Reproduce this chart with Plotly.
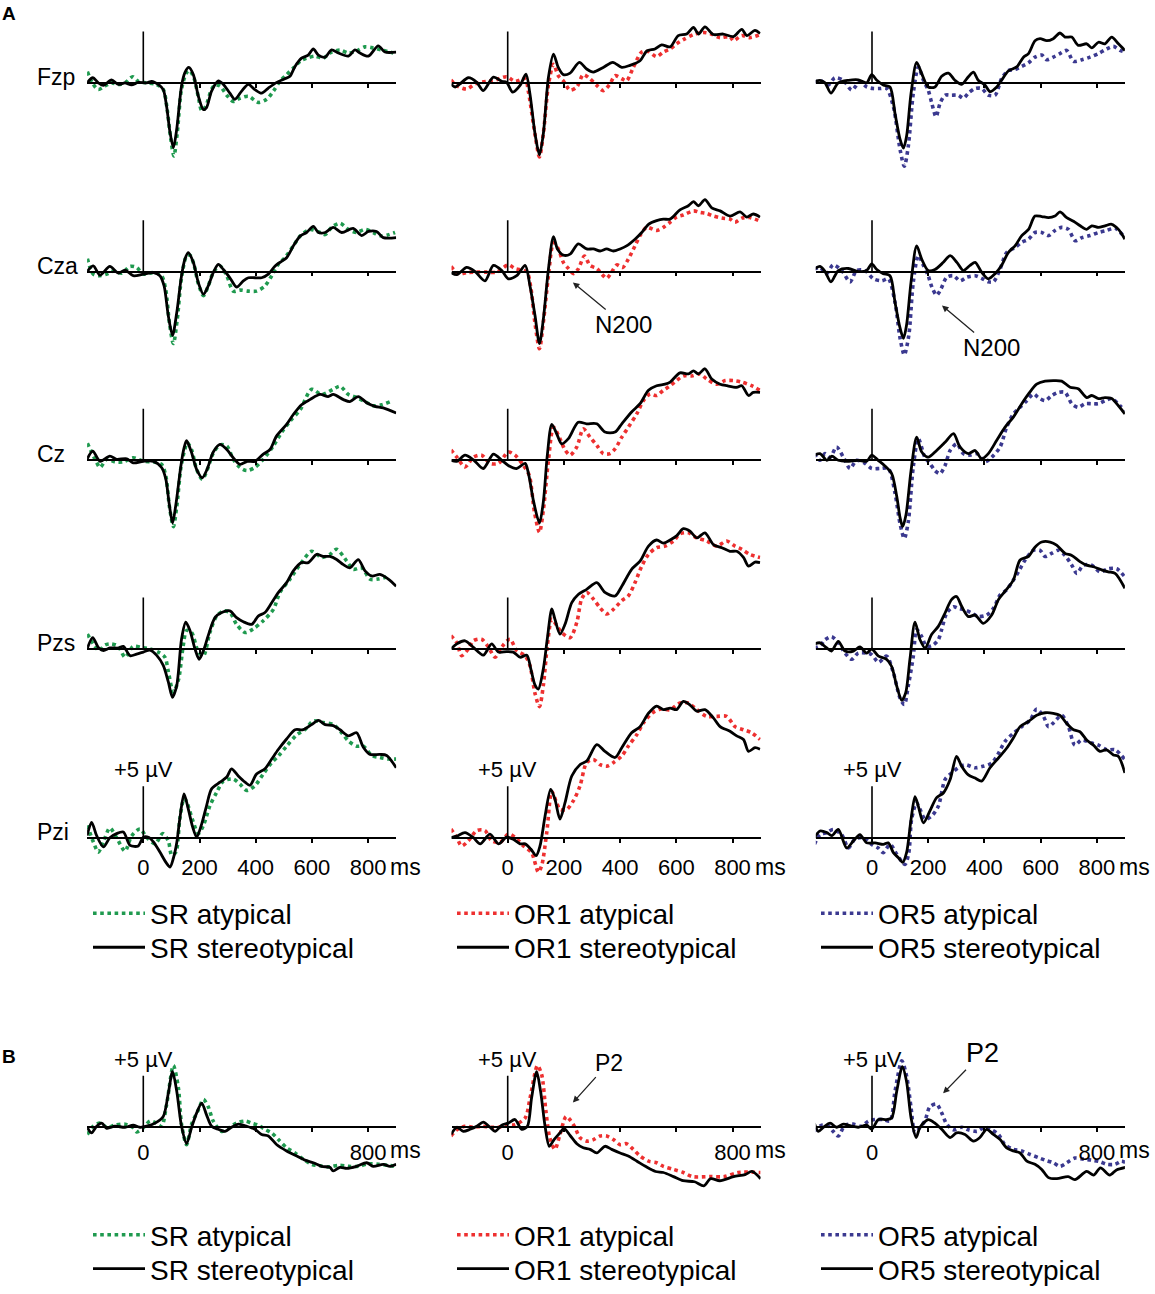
import plotly.graph_objects as go

# ── figure geometry (pixels of the 1155x1294 page) ───────────────────────────
W, H = 1155, 1294
PX_PER_UV = 10.3            # 5 µV calibration bar ~ 51 px
PX_PER_MS = 0.281           # 200 ms ~ 56 px
T_RANGE = [-200, 900]
ZERO_PX = [143.3, 507.7, 872.0]          # x pixel of t = 0 in each column
BASE_A = [83, 272, 461, 650, 839]        # y pixel of the 0 µV line, rows of A
BASE_B = 1129
Y_MIN = -9.0

FONT = "Liberation Sans, Arial, Helvetica, sans-serif"

CONDITIONS = ["SR", "OR1", "OR5"]
ELECTRODES = ["Fzp", "Cza", "Cz", "Pzs", "Pzi"]
ATYP_COLORS = {"SR": "#1f9a4f", "OR1": "#ee3030", "OR5": "#3b3990"}
SCALE_BAR_UV = 5
TICKS_MS = [0, 200, 400, 600, 800]

# ── waveforms: (ms, µV) ──────────────────────────────────────────────────────
# SR column
SR_FZP_STEREO = [(-200, 0), (-180, 0.5), (-160, 0), (-142, -0.25), (-113, 0.3), (-89, -0.15), (-65, 0), (-42, -0.2), (-18, 0.05), (12, 0), (30, 0.15), (53, -0.15), (71, -0.65), (83, -2.3), (95, -4.8), (107, -6.3), (119, -4.5), (136, -0.3), (148, 1.0), (162, 1.5), (178, 0.8), (196, -1.3), (214, -2.6), (225, -2.4), (243, -0.8), (267, 0.2), (285, -0.15), (308, -1.0), (326, -1.6), (350, -0.8), (374, -0.15), (397, -0.65), (421, -1.0), (445, -0.5), (475, 0.05), (504, 0.4), (522, 0.65), (540, 1.6), (563, 2.4), (587, 2.7), (605, 3.3), (623, 2.7), (647, 2.5), (670, 3.2), (694, 2.9), (730, 2.6), (753, 3.2), (771, 2.9), (801, 2.6), (836, 3.6), (860, 3.0), (900, 3.0)]
SR_FZP_ATYP = [(-199, 1.1), (-178, -0.15), (-160, -0.65), (-136, -0.3), (-113, 0), (-89, -0.15), (-65, 0), (-38, 0.6), (-18, 0.15), (12, 0), (47, -0.15), (71, -0.65), (85, -2.6), (97, -5.3), (109, -7.1), (121, -4.8), (136, -0.6), (154, 1.0), (165, 1.2), (180, 0.5), (196, -1.4), (208, -2.7), (222, -2.3), (243, -0.6), (255, -0.2), (273, -0.3), (297, -1.2), (320, -1.8), (344, -1.5), (374, -1.3), (409, -1.9), (439, -1.6), (463, -0.8), (486, 0.15), (510, 0.8), (534, 1.45), (563, 2.2), (581, 2.4), (611, 2.6), (640, 2.4), (664, 2.9), (700, 3.2), (730, 2.9), (759, 3.1), (789, 3.5), (818, 3.4), (848, 3.2), (890, 2.9)]
SR_CZA_STEREO = [(-200, 0), (-178, 0.55), (-154, -0.35), (-119, 0.5), (-89, -0.15), (-65, 0.15), (-36, -0.4), (0, -0.25), (36, -0.1), (59, -0.4), (74, -1.4), (89, -4.3), (104, -6.2), (119, -4.0), (136, -0.4), (148, 1.2), (160, 1.85), (178, 0.9), (196, -1.1), (214, -2.2), (231, -1.4), (249, -0.1), (267, 0.7), (285, 0.2), (308, -0.6), (332, -1.5), (356, -0.9), (374, -0.6), (397, -0.6), (421, -0.6), (445, -0.25), (469, 0.55), (492, 1.0), (510, 1.35), (534, 2.5), (558, 3.45), (581, 3.8), (605, 4.4), (623, 3.8), (647, 3.8), (676, 4.3), (706, 3.8), (747, 4.2), (777, 3.5), (801, 3.9), (830, 3.9), (854, 3.3), (900, 3.3)]
SR_CZA_ATYP = [(-199, 1.25), (-178, -0.25), (-154, -0.4), (-130, -0.25), (-107, 0.05), (-77, -0.15), (-47, 0.5), (-24, 0.4), (0, -0.25), (36, -0.1), (65, -0.4), (80, -1.8), (93, -5.0), (107, -7.0), (121, -4.6), (136, -0.6), (154, 1.5), (166, 1.6), (180, 0.7), (196, -1.2), (214, -2.35), (231, -1.4), (249, -0.1), (273, 0.55), (297, -0.4), (320, -1.9), (344, -1.8), (374, -1.9), (403, -1.9), (433, -1.4), (457, -0.4), (480, 0.7), (504, 1.35), (534, 2.5), (558, 3.45), (593, 4.1), (629, 3.8), (647, 3.6), (670, 4.3), (700, 4.7), (730, 4.1), (759, 3.8), (789, 4.1), (818, 3.8), (848, 3.45), (896, 3.8)]
SR_CZ_STEREO = [(-200, 0.1), (-180, 0.9), (-154, -0.1), (-119, 0.4), (-95, 0.1), (-59, 0.15), (-36, -0.25), (0, -0.1), (36, -0.1), (65, -0.7), (80, -1.8), (92, -4.2), (104, -6.1), (116, -4.3), (134, -0.5), (145, 1.2), (154, 1.9), (170, 0.9), (190, -0.9), (210, -1.7), (228, -0.8), (249, 0.8), (273, 1.55), (297, 1.05), (320, 0.25), (344, -0.4), (370, -0.1), (397, -0.1), (427, 0.6), (451, 1.05), (474, 2.35), (510, 3.5), (534, 4.45), (563, 5.4), (593, 5.9), (629, 6.4), (658, 6.2), (676, 6.4), (712, 5.9), (735, 5.7), (765, 6.2), (795, 5.6), (824, 5.25), (854, 5.1), (900, 4.6)]
SR_CZ_ATYP = [(-199, 1.65), (-167, -0.15), (-154, -0.7), (-130, 0.1), (-101, -0.15), (-71, -0.15), (-36, 0.25), (0, -0.1), (36, -0.15), (65, -0.4), (80, -1.5), (93, -4.5), (107, -6.45), (119, -4.5), (134, -0.7), (148, 1.1), (157, 1.7), (172, 1.0), (190, -0.9), (210, -1.85), (228, -0.9), (249, 0.7), (273, 1.5), (297, 1.4), (320, 0.1), (344, -0.7), (368, -1.0), (397, -0.7), (427, 0.1), (463, 1.4), (492, 2.7), (522, 3.8), (558, 4.9), (599, 6.9), (635, 6.4), (676, 6.9), (700, 7.2), (730, 6.4), (759, 6.1), (789, 5.7), (818, 5.3), (848, 5.4), (878, 5.7)]
SR_PZS_STEREO = [(-200, 0), (-180, 1.1), (-160, 0.15), (-142, -0.15), (-119, 0.1), (-89, 0.1), (-71, 0.25), (-47, -0.65), (-24, -0.5), (0, -0.3), (24, -0.1), (47, -0.6), (71, -1.6), (89, -3.2), (104, -4.7), (119, -3.55), (136, 0.95), (151, 2.6), (166, 1.8), (184, 0), (199, -1.0), (216, 0), (231, 1.3), (255, 3.05), (279, 3.55), (308, 3.7), (332, 3.05), (356, 2.65), (386, 2.4), (409, 3.2), (433, 3.55), (457, 4.5), (481, 5.5), (510, 6.45), (534, 7.6), (563, 8.4), (587, 8.4), (617, 9.2), (640, 9.0), (664, 9.0), (688, 8.7), (712, 8.2), (735, 7.9), (765, 8.7), (789, 7.6), (813, 7.1), (842, 7.25), (872, 6.8), (900, 6.1)]
SR_PZS_ATYP = [(-199, 1.45), (-178, 0.5), (-157, -0.15), (-136, 0.4), (-113, 0.5), (-89, 0.25), (-65, -0.8), (-36, 0.25), (-6, 0.15), (24, 0), (53, -0.3), (77, -0.8), (89, -2.2), (107, -4.2), (125, -3.0), (142, 0.3), (154, 1.8), (172, 1.6), (196, -0.3), (214, -0.65), (237, 1.6), (261, 3.2), (285, 3.7), (308, 3.55), (332, 2.4), (362, 1.6), (391, 1.95), (427, 2.75), (463, 3.85), (486, 5.5), (522, 6.8), (558, 8.2), (599, 9.5), (635, 8.9), (664, 9.2), (688, 9.7), (724, 8.55), (747, 7.75), (777, 7.9), (807, 6.8), (836, 6.8), (878, 7.1)]
SR_PZI_STEREO = [(-200, 0.2), (-184, 1.5), (-166, 0.2), (-142, -0.9), (-119, 0), (-95, 0.4), (-71, 0.55), (-47, -0.75), (-18, -0.8), (0, 0.05), (18, 0.05), (36, -0.4), (59, -1.4), (83, -2.5), (95, -2.85), (107, -2.0), (119, -0.5), (130, 1.85), (145, 4.25), (160, 2.8), (176, 1.0), (190, 0.05), (208, 1.35), (225, 3.1), (243, 4.75), (273, 5.4), (297, 5.9), (314, 6.7), (338, 6.0), (362, 5.4), (380, 5.1), (403, 6.2), (433, 6.7), (457, 7.65), (481, 8.6), (510, 9.6), (540, 10.5), (569, 10.5), (599, 11.0), (623, 11.4), (647, 11.0), (676, 10.9), (700, 10.5), (730, 9.9), (759, 10.2), (783, 8.8), (807, 8.1), (842, 8.1), (866, 8.0), (900, 6.8)]
SR_PZI_ATYP = [(-199, 1.2), (-178, -0.4), (-160, -1.4), (-142, -0.4), (-119, 0.95), (-95, 0), (-65, -1.3), (-42, 0.15), (-12, 0.85), (12, 0.05), (42, -0.6), (69, 0.4), (89, -0.3), (101, -1.7), (116, -1.4), (130, 1.85), (145, 3.8), (154, 3.5), (178, 1.5), (196, 0.4), (214, 1.2), (237, 3.1), (261, 4.4), (285, 5.5), (320, 5.7), (344, 5.2), (368, 4.6), (397, 5.05), (427, 6.2), (457, 7.3), (481, 7.95), (510, 8.9), (546, 10.0), (575, 10.5), (605, 11.35), (640, 11.2), (676, 11.0), (706, 10.2), (730, 9.4), (759, 8.9), (783, 8.9), (813, 8.0), (842, 7.8), (872, 7.65), (900, 7.65)]

# OR1 column
OR1_FZP_STEREO = [(-202, -0.1), (-187, -0.4), (-170, -0.1), (-140, 0.5), (-110, 0.05), (-87, -0.75), (-51, 0.55), (-21, 0.15), (-4, 0.05), (18, -0.9), (44, -0.25), (65, 0.85), (79, -1.05), (97, -4.9), (113, -7.0), (127, -4.9), (145, 0.55), (163, 2.8), (180, 1.5), (198, 0.8), (222, 0.95), (255, 2.0), (281, 1.35), (305, 1.05), (340, 1.5), (374, 2.0), (406, 1.5), (435, 1.7), (471, 2.15), (495, 3.1), (524, 3.3), (548, 3.7), (578, 3.5), (607, 4.6), (637, 4.75), (661, 5.4), (679, 4.75), (702, 5.45), (732, 4.7), (767, 4.75), (803, 4.5), (833, 5.2), (851, 4.6), (880, 5.1), (898, 4.8)]
OR1_FZP_ATYP = [(-202, 0.3), (-182, -0.25), (-146, -0.6), (-116, -0.1), (-75, 0.15), (-51, 0.2), (-4, 0.6), (26, 0.15), (62, 0.4), (74, -0.9), (97, -5.0), (113, -7.2), (127, -4.9), (145, -0.2), (163, 1.8), (180, 0.7), (198, 0.2), (222, -0.7), (246, -0.4), (269, 0.8), (293, 0.4), (317, -0.25), (340, -0.75), (364, -0.1), (382, 0.7), (406, 0.4), (423, 0.2), (447, 1.5), (477, 3.0), (501, 3.05), (530, 2.55), (554, 3.0), (578, 3.3), (601, 3.8), (625, 4.2), (661, 4.7), (696, 4.9), (720, 4.8), (756, 4.4), (791, 4.5), (803, 4.1), (833, 4.6), (862, 4.4), (898, 4.7)]
OR1_CZA_STEREO = [(-202, -0.1), (-181, -0.3), (-146, 0.4), (-116, 0), (-81, -0.9), (-51, 0.6), (-21, 0.1), (2, -0.7), (32, -0.4), (62, 0.6), (79, -1.35), (97, -4.25), (113, -7.0), (127, -4.6), (145, 0.25), (163, 3.4), (177, 2.2), (198, 1.6), (222, 1.7), (251, 2.7), (281, 2.2), (305, 2.2), (329, 2.0), (352, 2.2), (376, 2.0), (400, 2.2), (423, 2.5), (453, 3.15), (477, 3.8), (501, 4.6), (530, 4.95), (554, 5.1), (578, 5.1), (613, 6.0), (643, 6.4), (661, 6.8), (679, 6.4), (702, 7.0), (726, 6.2), (756, 5.9), (791, 5.4), (827, 5.8), (851, 5.3), (874, 5.6), (898, 5.3)]
OR1_CZA_ATYP = [(-202, 0.5), (-176, -0.2), (-146, -0.1), (-116, -0.05), (-75, -0.05), (-39, -0.05), (2, 0.65), (26, 0.3), (68, -0.05), (82, -1.5), (97, -5.0), (113, -7.5), (127, -4.9), (145, -0.4), (163, 2.8), (180, 2.2), (198, 0.9), (216, 0.3), (234, -0.2), (251, 0.25), (273, 1.5), (293, 0.6), (317, 0.3), (340, -0.4), (352, -0.65), (370, -0.05), (388, 0.65), (409, 0.4), (429, 1.2), (453, 2.5), (471, 3.5), (495, 4.3), (530, 4.0), (554, 4.3), (578, 4.8), (601, 5.3), (625, 5.5), (661, 5.9), (685, 5.75), (708, 5.65), (732, 5.4), (762, 5.2), (791, 5.1), (809, 4.8), (833, 5.2), (862, 5.25), (898, 4.9)]
OR1_CZ_STEREO = [(-202, 0), (-181, -0.1), (-152, 0.5), (-122, 0.05), (-87, -0.8), (-51, 0.6), (-21, 0), (2, -0.5), (32, -0.8), (62, -0.3), (74, -1.3), (92, -4.0), (113, -6.1), (127, -4.0), (141, 0.5), (157, 3.5), (174, 2.6), (192, 1.6), (216, 2.1), (251, 3.7), (281, 3.55), (317, 3.55), (346, 2.75), (382, 2.75), (406, 3.55), (441, 4.7), (471, 5.5), (501, 6.8), (530, 7.25), (560, 7.4), (578, 7.6), (613, 8.5), (643, 8.4), (661, 8.7), (679, 8.4), (702, 8.9), (726, 7.9), (756, 7.4), (780, 7.25), (815, 7.1), (833, 7.25), (857, 6.3), (874, 6.6), (898, 6.6)]
OR1_CZ_ATYP = [(-202, 1.0), (-181, 0.3), (-152, -0.65), (-122, 0.3), (-93, 0.5), (-63, -0.3), (-33, -0.3), (2, 0.8), (26, 0.5), (56, -0.5), (77, -1.5), (95, -5.0), (113, -7.0), (127, -4.8), (145, 0.0), (163, 3.2), (186, 2.1), (204, 1.0), (222, 0.5), (246, 1.3), (269, 3.05), (293, 2.25), (317, 1.45), (340, 0.65), (364, 0.65), (382, 1.1), (406, 2.25), (429, 3.2), (459, 4.5), (483, 5.8), (507, 6.45), (530, 6.3), (554, 6.8), (578, 7.25), (601, 7.75), (625, 8.2), (655, 8.2), (685, 8.4), (708, 7.9), (744, 7.4), (774, 7.75), (803, 7.75), (833, 7.6), (868, 7.25), (898, 6.8)]
OR1_PZS_STEREO = [(-202, 0), (-181, 0.5), (-152, 0.8), (-122, 0.15), (-87, -0.6), (-57, 0.5), (-33, -0.3), (-4, -0.25), (20, -0.3), (44, -0.8), (68, -0.6), (82, -1.9), (97, -3.5), (109, -3.9), (127, -1.9), (141, 1.0), (157, 3.9), (168, 2.9), (186, 1.45), (204, 2.4), (228, 4.5), (251, 5.3), (281, 5.8), (317, 6.45), (346, 5.5), (382, 5.15), (406, 6.1), (441, 7.75), (471, 8.55), (501, 10.0), (530, 10.6), (554, 10.3), (578, 10.6), (601, 11.0), (625, 11.7), (649, 11.45), (673, 10.8), (702, 11.3), (732, 10.15), (762, 9.85), (791, 9.5), (815, 9.5), (839, 8.9), (857, 8.05), (880, 8.45), (898, 8.4)]
OR1_PZS_ATYP = [(-202, 1.3), (-181, 0.6), (-164, -0.65), (-140, 0), (-122, 0.8), (-93, 0.95), (-69, 0.2), (-45, -0.8), (-21, 0.2), (8, 0.95), (32, -0.15), (62, -0.65), (79, -1.6), (97, -4.3), (113, -5.6), (127, -3.5), (141, 0.3), (157, 2.9), (174, 2.3), (192, 1.6), (222, 1.1), (246, 2.6), (263, 4.85), (281, 5.5), (305, 4.85), (329, 4.0), (352, 3.4), (376, 3.85), (406, 4.7), (429, 5.15), (453, 6.45), (477, 8.05), (501, 9.2), (530, 9.85), (560, 10.0), (590, 10.5), (613, 11.2), (643, 11.3), (673, 10.8), (708, 10.5), (744, 10.0), (779, 10.5), (809, 10.0), (833, 9.7), (862, 9.2), (898, 8.9)]
OR1_PZI_STEREO = [(-202, 0), (-181, 0.15), (-152, 0.5), (-122, 0), (-98, -0.6), (-63, 0.35), (-33, -0.6), (-4, 0.05), (20, -0.15), (44, -0.6), (62, -0.6), (82, -1.1), (101, -1.75), (115, -0.8), (133, 2.1), (153, 4.7), (168, 3.75), (186, 1.8), (204, 3.4), (228, 6.0), (257, 7.1), (281, 7.45), (317, 9.05), (346, 8.4), (382, 7.8), (406, 8.75), (441, 10.2), (471, 10.8), (501, 12.1), (530, 12.8), (554, 12.45), (578, 12.6), (601, 12.45), (625, 13.25), (649, 12.9), (673, 12.3), (702, 12.45), (732, 11.65), (756, 10.8), (791, 10.35), (815, 9.9), (839, 9.55), (857, 8.4), (880, 8.75), (898, 8.6)]
OR1_PZI_ATYP = [(-202, 0.85), (-181, 0), (-164, -0.8), (-140, -0.3), (-110, 0.7), (-81, 0.7), (-57, -0.3), (-27, -0.45), (2, 0.35), (26, 0.05), (56, -0.8), (85, -1.45), (109, -3.35), (121, -2.7), (139, 0.5), (157, 4.5), (174, 3.4), (186, 2.75), (210, 2.75), (234, 3.6), (257, 5.0), (281, 7.3), (305, 7.6), (329, 7.1), (352, 6.95), (376, 7.3), (406, 7.95), (429, 8.9), (459, 10.0), (483, 11.15), (513, 12.1), (542, 12.5), (578, 12.45), (613, 13.1), (643, 13.1), (673, 12.45), (708, 11.8), (744, 11.8), (779, 11.8), (809, 10.8), (839, 10.5), (868, 10.2), (898, 9.55)]

# OR5 column
OR5_FZP_STEREO = [(-205, 0.1), (-185, 0.25), (-167, 0), (-146, -1.0), (-120, 0), (-84, 0.25), (-49, 0.3), (-19, 0), (-1, 0.8), (17, 0.25), (40, -0.2), (64, -0.4), (82, -3.0), (100, -5.5), (112, -6.35), (123, -5.2), (139, -1.0), (159, 2.0), (177, 0.9), (200, -0.4), (224, -0.4), (248, 0.65), (272, 0.95), (295, 0.25), (319, -0.15), (343, 0.6), (361, 1.05), (378, 0.25), (402, -0.2), (420, -0.85), (444, -0.4), (461, 0.25), (485, 1.15), (515, 1.55), (539, 2.5), (557, 2.85), (580, 4.1), (598, 4.3), (622, 4.1), (645, 4.3), (669, 4.85), (687, 4.45), (711, 4.45), (734, 3.65), (764, 3.8), (782, 3.4), (806, 3.95), (829, 3.8), (853, 4.45), (877, 3.8), (900, 3.15)]
OR5_FZP_ATYP = [(-205, 0), (-185, 0.25), (-156, -0.2), (-132, 0.5), (-102, 0.25), (-72, -0.7), (-43, 0.1), (-19, -0.4), (5, -0.55), (29, -0.55), (52, -0.55), (76, -2.3), (100, -6.5), (115, -8.1), (129, -6.2), (147, -1.0), (165, 1.55), (183, 0.25), (200, -0.7), (213, -2.0), (228, -3.3), (242, -2.0), (260, -1.2), (283, -1.2), (307, -1.2), (325, -1.5), (343, -1.0), (367, -0.55), (390, -0.55), (414, -1.2), (438, -1.2), (461, 0.4), (485, 1.2), (509, 1.3), (533, 1.6), (557, 1.95), (580, 2.5), (604, 2.7), (622, 2.25), (645, 2.5), (669, 2.85), (693, 3.15), (717, 2.1), (747, 2.25), (776, 2.5), (806, 2.85), (835, 3.3), (859, 3.55), (883, 3.15), (900, 3.0)]
OR5_CZA_STEREO = [(-205, 0.25), (-185, 0.5), (-167, 0), (-146, -1.0), (-120, 0.1), (-84, 0.3), (-49, 0), (-19, 0.1), (-1, 0.75), (17, 0.2), (40, -0.2), (64, -0.4), (82, -3.0), (100, -5.5), (112, -6.5), (123, -5.2), (139, -1.0), (159, 2.5), (177, 1.2), (200, 0.1), (224, 0.2), (254, 0.9), (278, 1.55), (302, 0.9), (325, 0.1), (349, 0.6), (367, 0.9), (390, -0.05), (414, -0.7), (438, -0.2), (461, 0.6), (485, 1.85), (509, 2.5), (533, 3.5), (557, 4.1), (580, 5.4), (604, 5.35), (628, 5.25), (651, 5.4), (669, 5.8), (693, 5.25), (717, 4.9), (741, 4.45), (764, 4.1), (782, 4.45), (806, 4.3), (829, 4.45), (853, 4.6), (877, 4.1), (900, 3.15)]
OR5_CZA_ATYP = [(-205, 0.25), (-185, 0.4), (-162, -0.2), (-138, 0.65), (-108, 0.1), (-78, -1.0), (-55, 0.1), (-25, 0.1), (5, -0.7), (35, -0.9), (58, -0.7), (82, -3.0), (100, -6.5), (115, -8.1), (131, -6.2), (147, -1.0), (165, 1.55), (183, 0.6), (200, -0.4), (213, -1.5), (230, -2.3), (245, -1.7), (266, -0.55), (290, -0.4), (313, -0.9), (337, -0.55), (367, -0.4), (390, -0.65), (414, -1.0), (432, -1.0), (456, 0.25), (479, 1.85), (509, 2.35), (533, 2.85), (557, 3.15), (580, 3.8), (604, 3.8), (628, 3.5), (651, 4.0), (675, 4.3), (699, 4.1), (723, 3.0), (747, 3.3), (776, 3.5), (806, 3.8), (835, 4.0), (865, 4.2), (900, 3.3)]
OR5_CZ_STEREO = [(-205, 0.5), (-185, 0.65), (-161, 0), (-143, 0.4), (-120, 0), (-90, -0.1), (-49, 0), (-19, -0.1), (-1, 0.5), (22, 0), (46, -0.55), (70, -1.3), (88, -3.5), (100, -5.6), (109, -6.45), (121, -5.3), (139, -1.0), (159, 2.25), (177, 0.8), (200, 0.3), (230, 0.95), (260, 1.75), (290, 2.6), (313, 1.3), (343, 0.65), (367, 0.95), (390, 0.15), (414, 0.65), (444, 1.95), (473, 3.2), (503, 4.2), (533, 5.5), (557, 6.45), (586, 7.4), (616, 7.7), (645, 7.75), (675, 7.7), (705, 7.1), (734, 6.95), (764, 6.1), (782, 6.3), (806, 6.0), (829, 6.1), (853, 6.0), (877, 5.3), (900, 4.5)]
OR5_CZ_ATYP = [(-205, 0.65), (-185, 0), (-167, 0.65), (-149, 0.3), (-126, 1.3), (-102, 0.3), (-78, -0.8), (-55, 0), (-25, -0.3), (-1, -0.8), (29, -0.8), (58, -0.8), (82, -3.2), (100, -6.2), (115, -7.6), (129, -6.0), (147, -0.6), (165, 2.1), (188, 0.3), (206, -0.3), (224, -1.0), (242, -1.3), (260, -0.5), (278, 0.95), (302, 1.6), (325, 0.65), (349, 0.5), (373, 0.65), (402, -0.15), (426, 0.3), (456, 1.3), (479, 3.2), (503, 4.5), (527, 5.15), (551, 5.8), (575, 6.45), (592, 6.1), (616, 5.8), (640, 6.3), (663, 6.6), (687, 6.6), (711, 5.5), (734, 5.15), (758, 5.5), (782, 5.5), (806, 5.5), (829, 5.8), (853, 6.0), (883, 5.3), (900, 4.85)]
OR5_PZS_STEREO = [(-205, 0.5), (-185, 0.6), (-161, 0.1), (-144, -0.2), (-120, 0.75), (-96, -0.2), (-66, -0.2), (-43, 0.2), (-19, -0.4), (-1, 0), (23, -0.7), (52, -1.0), (70, -1.7), (88, -3.6), (106, -5.0), (120, -4.25), (135, -1.0), (153, 2.6), (171, 0.9), (189, 0.1), (212, 1.4), (236, 2.2), (260, 3.5), (283, 4.8), (301, 5.1), (319, 4.15), (343, 3.15), (367, 3.3), (396, 2.5), (426, 3.3), (450, 4.8), (473, 5.6), (503, 6.7), (527, 8.65), (557, 9.0), (580, 9.9), (604, 10.4), (634, 10.4), (657, 10.1), (687, 9.3), (711, 9.1), (740, 8.5), (764, 8.15), (788, 8.0), (817, 7.7), (841, 7.5), (865, 7.35), (900, 5.9)]
OR5_PZS_ATYP = [(-205, 0.1), (-185, 0.3), (-167, 0.9), (-144, 1.2), (-120, 0.6), (-96, -0.4), (-72, -1.0), (-49, -0.4), (-19, -0.4), (-1, -0.55), (23, -1.3), (52, -0.7), (76, -2.3), (100, -4.8), (115, -5.4), (129, -3.6), (147, -0.7), (159, 1.9), (177, 1.2), (194, 0.25), (218, 0.4), (236, 0.9), (248, 1.9), (266, 3.5), (290, 4.1), (307, 3.95), (331, 3.8), (355, 3.5), (378, 3.15), (408, 3.3), (432, 3.95), (456, 5.25), (479, 5.75), (503, 6.7), (521, 7.5), (545, 8.65), (574, 9.6), (598, 9.6), (616, 9.0), (639, 9.3), (663, 9.6), (687, 9.1), (711, 8.15), (729, 7.35), (752, 8.15), (782, 8.15), (811, 7.5), (841, 7.8), (871, 7.8), (900, 7.0)]
OR5_PZI_STEREO = [(-205, 0), (-185, 0.65), (-161, 0.5), (-143, 0.2), (-120, 0.8), (-90, -1.0), (-66, -0.3), (-43, 0.3), (-19, -0.5), (11, -0.5), (40, -0.65), (58, -0.5), (76, -1.45), (94, -1.95), (109, -2.4), (123, -1.45), (139, 1.8), (153, 4.0), (165, 3.05), (183, 1.45), (206, 2.6), (230, 3.9), (254, 4.35), (278, 5.65), (301, 7.9), (319, 6.95), (343, 6.1), (367, 5.8), (390, 5.5), (420, 6.8), (450, 7.75), (479, 8.7), (503, 9.7), (527, 10.8), (557, 11.3), (586, 11.9), (616, 12.15), (645, 12.1), (669, 11.9), (693, 11.1), (717, 10.5), (740, 10.3), (764, 9.5), (788, 9.0), (811, 8.4), (835, 8.55), (859, 8.05), (877, 7.9), (900, 6.3)]
OR5_PZI_ATYP = [(-205, -0.65), (-185, 0.3), (-161, 0.5), (-138, 0.8), (-108, 0.3), (-84, -1.0), (-61, -0.15), (-31, 0), (-1, -0.65), (22, -1.0), (40, -1.45), (64, -0.65), (88, -1.6), (117, -2.6), (131, -1.45), (141, 1.8), (159, 3.4), (171, 2.75), (189, 1.8), (212, 2.1), (236, 3.05), (260, 5.65), (284, 6.3), (307, 6.8), (331, 7.1), (367, 6.8), (396, 6.95), (426, 7.25), (450, 8.2), (473, 9.35), (503, 10.15), (533, 10.8), (563, 11.45), (586, 12.5), (610, 11.8), (628, 10.8), (645, 11.15), (675, 11.9), (699, 10.8), (722, 9.0), (746, 9.5), (782, 9.2), (806, 9.0), (835, 8.55), (865, 8.55), (900, 7.6)]

# panel B
SR_B_STEREO = [(-200, 0), (-184, -0.55), (-166, 0.1), (-148, 0.4), (-130, -0.1), (-101, 0.1), (-65, 0), (-36, 0.2), (-12, 0), (12, 0.1), (42, 0.4), (71, 1.05), (89, 3.3), (104, 5.4), (119, 3.5), (136, 0.1), (154, -1.6), (172, 0), (190, 1.4), (208, 2.35), (225, 1.2), (243, 0.1), (267, -0.2), (291, -0.4), (314, 0), (338, 0.3), (368, 0.1), (397, -0.2), (421, -0.7), (445, -0.85), (475, -1.7), (510, -2.3), (546, -2.8), (575, -3.2), (605, -3.45), (635, -3.8), (664, -3.9), (676, -4.25), (700, -3.9), (724, -4.0), (759, -3.8), (795, -3.45), (818, -3.8), (854, -3.6), (878, -3.8), (900, -3.6)]
SR_B_ATYP = [(-199, -0.7), (-178, 0.1), (-154, 0.4), (-130, 0), (-101, 0.2), (-65, 0.3), (-36, -0.05), (-24, -0.45), (0, -0.05), (24, 0.6), (47, 0.4), (65, 0.1), (83, 2.2), (107, 6.0), (125, 3.8), (136, 0.3), (154, -1.7), (172, 0.3), (196, 1.7), (214, 2.7), (231, 2.0), (249, 0.6), (279, -0.4), (308, 0), (332, 0.4), (362, 0.6), (386, 0.4), (409, 0.2), (433, -0.2), (457, -0.55), (481, -1.2), (510, -2.0), (540, -2.5), (569, -3.1), (599, -3.6), (629, -3.75), (664, -3.85), (694, -3.7), (730, -3.8), (765, -3.8), (801, -3.55), (836, -3.6), (872, -3.7), (896, -3.8)]
OR1_B_STEREO = [(-202, -0.7), (-181, 0), (-158, -0.4), (-134, -0.2), (-110, 0.1), (-87, 0.5), (-63, 0), (-45, -0.4), (-21, 0.2), (2, 0.4), (26, 0.75), (50, -0.2), (70, 0.1), (85, 2.85), (103, 5.4), (117, 3.5), (133, 0.1), (148, -1.85), (165, -1.2), (186, -0.55), (200, -0.1), (222, -0.8), (246, -1.6), (269, -2.0), (293, -2.15), (317, -2.5), (346, -1.85), (370, -2.15), (400, -2.5), (429, -2.8), (460, -3.3), (490, -3.8), (526, -4.3), (554, -4.4), (590, -4.8), (624, -5.2), (665, -5.3), (698, -5.7), (722, -5.0), (755, -5.2), (804, -4.8), (845, -4.6), (869, -4.3), (900, -5.0)]
OR1_B_ATYP = [(-202, -0.85), (-181, -0.25), (-152, 0.1), (-122, 0), (-93, 0.1), (-63, 0), (-33, 0), (-4, 0.2), (26, 0.25), (62, 0.9), (80, 2.9), (106, 6.0), (121, 5.1), (136, 1.55), (150, -1.05), (168, -2.15), (186, -0.7), (208, 1.05), (224, 0.65), (240, -0.05), (257, -1.0), (281, -1.35), (305, -1.2), (329, -0.85), (352, -0.85), (376, -1.2), (400, -1.7), (423, -1.6), (447, -2.15), (471, -2.8), (501, -3.3), (530, -3.45), (554, -3.8), (590, -4.1), (625, -4.4), (657, -4.8), (722, -4.8), (771, -4.8), (820, -4.4), (900, -4.4)]
OR5_B_STEREO = [(-205, 0.4), (-191, -0.4), (-173, 0), (-149, 0.4), (-126, 0), (-102, 0.3), (-72, 0.1), (-49, 0), (-19, 0.2), (-1, -0.2), (23, 0.75), (52, 0.75), (70, 0.9), (88, 3.5), (108, 5.9), (123, 4.45), (139, 0.9), (157, -1.0), (171, 0), (200, 0.75), (224, 0.4), (248, -0.2), (278, -1.0), (301, -0.55), (331, -0.7), (361, -1.35), (384, -1.0), (408, -0.2), (432, -0.7), (456, -1.2), (479, -2.0), (503, -2.3), (527, -2.5), (551, -3.3), (580, -3.6), (604, -4.1), (628, -4.9), (658, -5.0), (698, -4.8), (722, -5.1), (764, -4.3), (789, -4.65), (813, -3.95), (846, -4.65), (870, -4.15), (903, -3.9)]
OR5_B_ATYP = [(-205, -0.4), (-179, 0.2), (-155, 0.1), (-138, -0.4), (-120, -0.85), (-96, 0.2), (-67, 0.3), (-37, 0.1), (-13, 0.6), (11, 0.75), (40, 0.75), (64, 0.6), (82, 3.5), (106, 6.45), (123, 5.0), (139, 1.9), (153, -0.55), (171, 0), (188, 0.6), (206, 2.0), (230, 2.25), (248, 1.4), (266, 0.3), (290, -0.25), (319, 0), (343, -0.25), (373, -0.4), (402, 0), (426, -0.25), (450, -0.7), (473, -1.7), (503, -2.15), (533, -2.3), (563, -2.65), (592, -2.95), (616, -3.2), (645, -3.45), (669, -3.8), (693, -3.45), (722, -3.0), (752, -3.1), (782, -3.2), (811, -3.35), (835, -3.6), (865, -3.6), (888, -3.3), (903, -3.45)]

SERIES_A = {
    ("SR", "Fzp"): (SR_FZP_ATYP, SR_FZP_STEREO), ("SR", "Cza"): (SR_CZA_ATYP, SR_CZA_STEREO),
    ("SR", "Cz"): (SR_CZ_ATYP, SR_CZ_STEREO), ("SR", "Pzs"): (SR_PZS_ATYP, SR_PZS_STEREO),
    ("SR", "Pzi"): (SR_PZI_ATYP, SR_PZI_STEREO),
    ("OR1", "Fzp"): (OR1_FZP_ATYP, OR1_FZP_STEREO), ("OR1", "Cza"): (OR1_CZA_ATYP, OR1_CZA_STEREO),
    ("OR1", "Cz"): (OR1_CZ_ATYP, OR1_CZ_STEREO), ("OR1", "Pzs"): (OR1_PZS_ATYP, OR1_PZS_STEREO),
    ("OR1", "Pzi"): (OR1_PZI_ATYP, OR1_PZI_STEREO),
    ("OR5", "Fzp"): (OR5_FZP_ATYP, OR5_FZP_STEREO), ("OR5", "Cza"): (OR5_CZA_ATYP, OR5_CZA_STEREO),
    ("OR5", "Cz"): (OR5_CZ_ATYP, OR5_CZ_STEREO), ("OR5", "Pzs"): (OR5_PZS_ATYP, OR5_PZS_STEREO),
    ("OR5", "Pzi"): (OR5_PZI_ATYP, OR5_PZI_STEREO),
}
SERIES_B = {"SR": (SR_B_ATYP, SR_B_STEREO), "OR1": (OR1_B_ATYP, OR1_B_STEREO),
            "OR5": (OR5_B_ATYP, OR5_B_STEREO)}

# annotations: (column, panel, head ms, head µV, dx px, dy px, font size)
N200_MARKS = [("OR1", "Cza", 232, -1.05, 51, 42, 24), ("OR5", "Cza", 249, -3.3, 50, 42, 24)]
P2_MARKS = [("OR1", 232, 2.4, 36, -40, 23), ("OR5", 253, 3.3, 39, -40, 27)]


def px_y(p):
    return 1 - p / H


fig = go.Figure()
layout = {}
annotations = []
shapes = []
n_panels = 18


def legend_key(n):
    return "legend" if n == 1 else f"legend{n}"


def add_panel(idx, col, base_px, series, tick_text, legend_slot, cond, standoff=6):
    sx = "" if idx == 1 else str(idx)
    z = ZERO_PX[col]
    x_dom = [(z + T_RANGE[0] * PX_PER_MS) / W, (z + T_RANGE[1] * PX_PER_MS) / W]
    y_max = min(14.0, (base_px - 1) / PX_PER_UV)
    y_dom = [px_y(base_px - Y_MIN * PX_PER_UV), px_y(base_px - y_max * PX_PER_UV)]
    pos = px_y(base_px)
    ticks_at = TICKS_MS if tick_text else TICKS_MS[1:]
    xa = dict(domain=x_dom, range=T_RANGE, anchor="free", position=pos,
              showline=True, linecolor="black", linewidth=1.6,
              showgrid=False, zeroline=False, tickmode="array", tickvals=ticks_at,
              ticks="outside", ticklen=4, tickwidth=1.6, tickcolor="black",
              fixedrange=True)
    if tick_text:
        xa.update(ticktext=tick_text, showticklabels=True, ticklabelstandoff=standoff,
                  tickfont=dict(family=FONT, size=22, color="black"))
    else:
        xa.update(showticklabels=False)
    layout[f"xaxis{sx}"] = xa
    # second axis on the same line so the tick marks cross the baseline
    layout[f"xaxis{idx + n_panels}"] = dict(
        overlaying=f"x{sx}", range=T_RANGE, anchor="free", position=pos, side="top",
        showline=False, showgrid=False, zeroline=False, tickmode="array",
        tickvals=TICKS_MS[1:], ticks="outside", ticklen=4, tickwidth=1.6,
        tickcolor="black", showticklabels=False, fixedrange=True)
    layout[f"yaxis{sx}"] = dict(domain=y_dom, range=[Y_MIN, y_max], visible=False,
                                anchor=f"x{sx}", fixedrange=True)

    atyp, stereo = series
    for j, (pts, kind) in enumerate(((atyp, "atypical"), (stereo, "stereotypical"))):
        t, v = zip(*pts)
        if kind == "atypical":
            line = dict(color=ATYP_COLORS[cond], width=3.6, dash="3.6px,3.6px",
                        shape="spline", smoothing=0.8)
        else:
            line = dict(color="black", width=2.8, shape="spline", smoothing=0.8)
        show = legend_slot is not None
        fig.add_trace(go.Scatter(
            x=list(t), y=list(v), mode="lines", line=line,
            name=f"{cond} {kind}", xaxis=f"x{sx}", yaxis=f"y{sx}",
            showlegend=show,
            legend=legend_key(2 * legend_slot + j + 1) if show else "legend",
            hoverinfo="skip"))

    shapes.append(dict(type="line", xref=f"x{sx}", yref=f"y{sx}", x0=0, x1=0,
                       y0=0, y1=SCALE_BAR_UV, line=dict(color="black", width=1.6)))
    return sx


axis_of = {}
idx = 1
for r, el in enumerate(ELECTRODES):
    for c, cond in enumerate(CONDITIONS):
        last = r == len(ELECTRODES) - 1
        sx = add_panel(idx, c, BASE_A[r], SERIES_A[(cond, el)],
                       ["0", "200", "400", "600", "800"] if last else None,
                       c if last else None, cond)
        axis_of[(cond, el)] = sx
        idx += 1
for c, cond in enumerate(CONDITIONS):
    sx = add_panel(idx, c, BASE_B, SERIES_B[cond], ["0", "", "", "", "800"],
                   c + 3, cond, standoff=2)
    axis_of[(cond, "B")] = sx
    idx += 1

# electrode names
for r, el in enumerate(ELECTRODES):
    annotations.append(dict(text=el, xref="paper", x=35 / W, xanchor="left",
                            yref=f"y{axis_of[('SR', el)]}", y=0, yanchor="middle",
                            yshift=6, showarrow=False,
                            font=dict(family=FONT, size=23, color="black")))

# +5 µV labels and "ms" after the 800 tick
for cond in CONDITIONS:
    for key, lab_px in (("Pzi", 868), ("B", 1152)):
        sx = axis_of[(cond, key)]
        annotations.append(dict(text="+5 µV", xref=f"x{sx}", yref=f"y{sx}", x=0,
                                y=SCALE_BAR_UV, yanchor="bottom", yshift=2,
                                showarrow=False,
                                font=dict(family=FONT, size=22, color="black")))
        annotations.append(dict(text="ms", xref=f"x{sx}", x=872, xanchor="left",
                                yref="paper", y=px_y(lab_px), yanchor="middle",
                                showarrow=False,
                                font=dict(family=FONT, size=23, color="black")))

for cond, el, t, v, dx, dy, fs in N200_MARKS:
    sx = axis_of[(cond, el)]
    annotations.append(dict(text="N200", xref=f"x{sx}", yref=f"y{sx}", x=t, y=v,
                            ax=dx, ay=dy, showarrow=True, arrowhead=2, arrowsize=1,
                            arrowwidth=1.3, arrowcolor="#222",
                            font=dict(family=FONT, size=fs, color="black")))
for cond, t, v, dx, dy, fs in P2_MARKS:
    sx = axis_of[(cond, "B")]
    annotations.append(dict(text="P2", xref=f"x{sx}", yref=f"y{sx}", x=t, y=v,
                            ax=dx, ay=dy, showarrow=True, arrowhead=2, arrowsize=1,
                            arrowwidth=1.3, arrowcolor="#222",
                            font=dict(family=FONT, size=fs, color="black")))

for lab, ypx in (("A", 14), ("B", 1058)):
    annotations.append(dict(text=f"<b>{lab}</b>", xref="paper", yref="paper",
                            x=0, xanchor="left", y=px_y(ypx), yanchor="middle",
                            showarrow=False,
                            font=dict(family=FONT, size=19, color="black")))

# one small legend per line of key text, under each column, for A and for B
LEGEND_X_PX = [88, 452, 816]
LEGEND_ROWS_PX = [(915, 949), (1237, 1271)]
for slot in range(6):
    for j in range(2):
        layout[legend_key(2 * slot + j + 1)] = dict(
            x=LEGEND_X_PX[slot % 3] / W, xanchor="left",
            y=px_y(LEGEND_ROWS_PX[slot // 3][j]), yanchor="middle",
            bgcolor="rgba(0,0,0,0)", borderwidth=0,
            font=dict(family=FONT, size=28, color="black"),
            itemwidth=52, tracegroupgap=0)

fig.update_layout(
    width=W, height=H, margin=dict(l=0, r=0, t=0, b=0),
    paper_bgcolor="white", plot_bgcolor="rgba(0,0,0,0)",
    font=dict(family=FONT, color="black"),
    annotations=annotations, shapes=shapes, hovermode=False,
    **layout,
)

# the default page keeps the browser's 8px body margin; drop it
fig.write_html("out.html", config={"displayModeBar": False},
               post_script="document.body.style.margin='0';"
                           "document.body.style.overflow='hidden';")
